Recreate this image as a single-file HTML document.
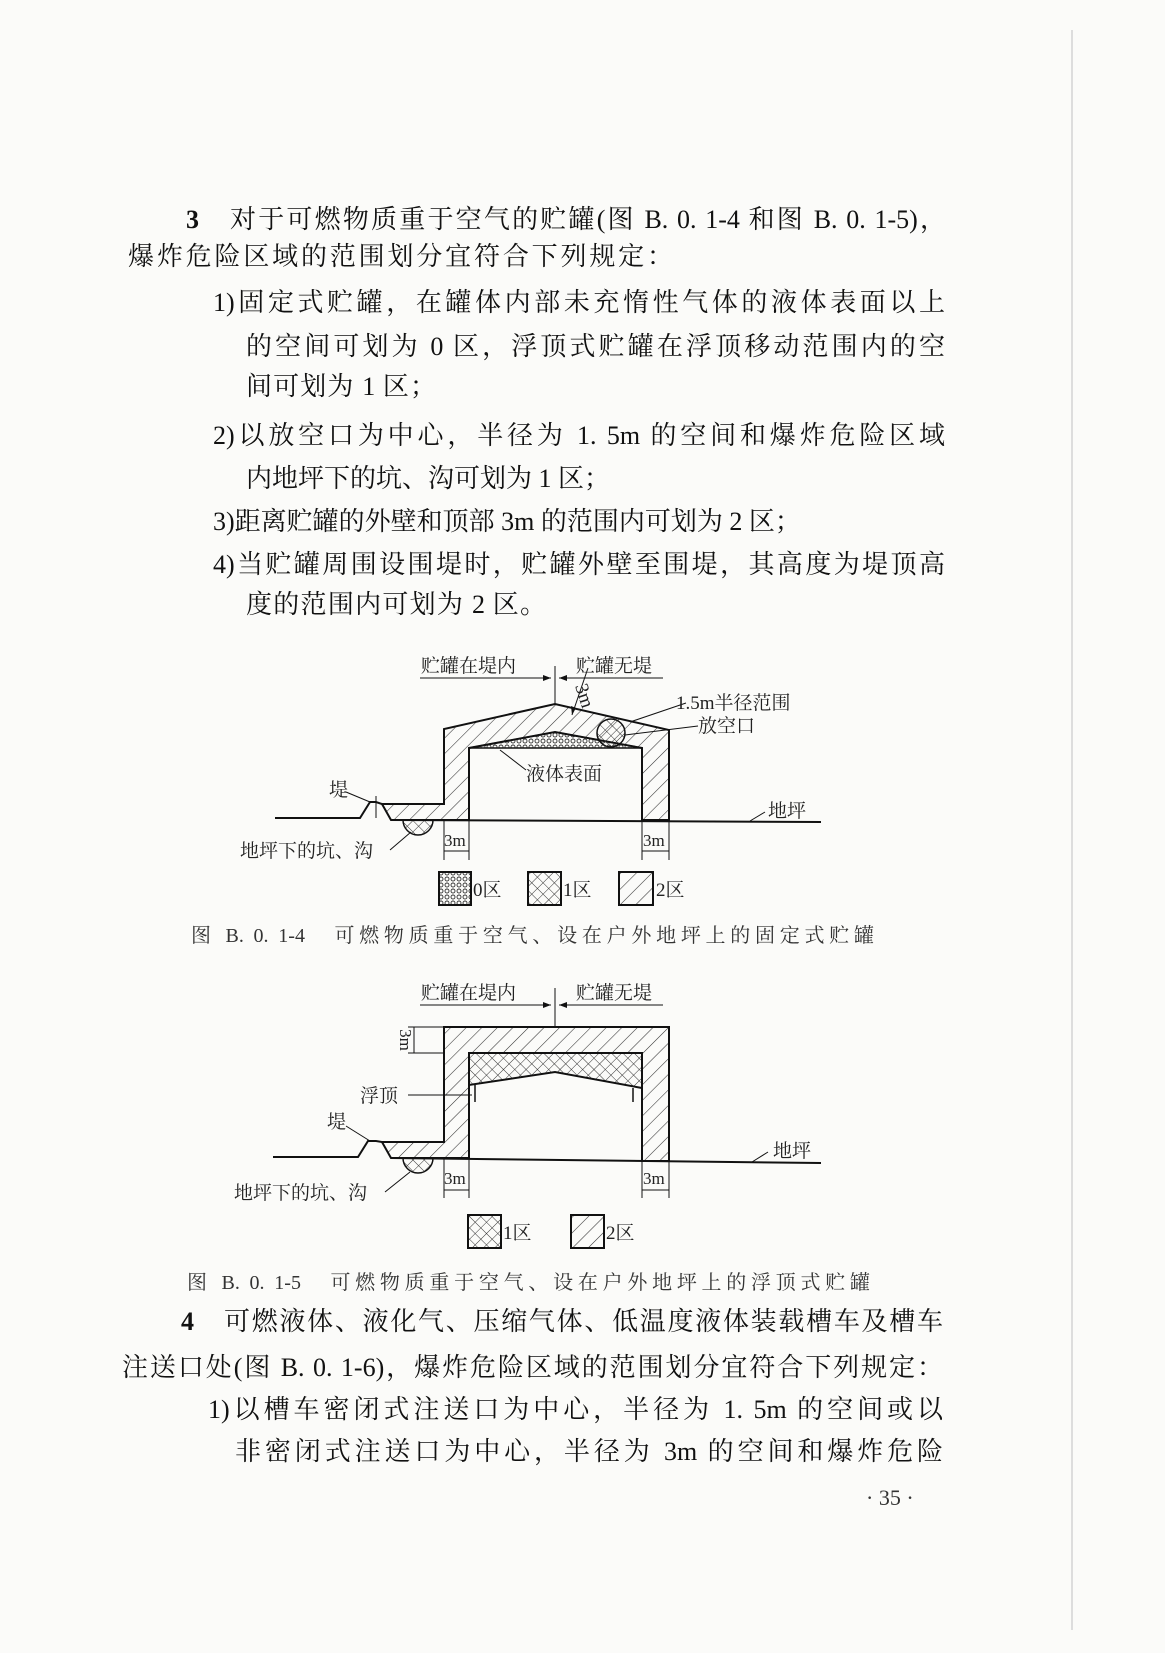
<!DOCTYPE html>
<html><head><meta charset="utf-8">
<style>
html,body{margin:0;padding:0;}
body{width:1165px;height:1653px;position:relative;background:#fbfbf9;overflow:hidden;
font-family:"Liberation Serif","Noto Serif CJK SC",serif;color:#111;}
.l{position:absolute;font-size:26px;line-height:30px;height:30px;white-space:nowrap;text-align:justify;text-align-last:justify;}
.c{position:absolute;font-size:20px;line-height:24px;white-space:nowrap;color:#333;text-align-last:justify;}
svg{position:absolute;left:0;top:0;}
svg text{font-family:"Liberation Serif","Noto Serif CJK SC",serif;fill:#222;}
</style></head><body>
<div style="position:absolute;left:1071px;top:30px;width:2px;height:1600px;background:#ddd"></div>

<div class="l" style="left:186px;top:205px;width:18px;font-weight:bold">3</div>
<div class="l" style="left:230px;top:205px;width:716px">对于可燃物质重于空气的贮罐(图 B. 0. 1-4 和图 B. 0. 1-5)，</div>
<div class="l" style="left:128px;top:242px;width:545px">爆炸危险区域的范围划分宜符合下列规定：</div>
<div class="l" style="left:213px;top:288px;width:732px">1)固定式贮罐，在罐体内部未充惰性气体的液体表面以上</div>
<div class="l" style="left:246px;top:332px;width:699px">的空间可划为 0 区，浮顶式贮罐在浮顶移动范围内的空</div>
<div class="l" style="left:246px;top:372px;width:190px">间可划为 1 区；</div>
<div class="l" style="left:213px;top:421px;width:732px">2)以放空口为中心，半径为 1. 5m 的空间和爆炸危险区域</div>
<div class="l" style="left:246px;top:464px;width:355px">内地坪下的坑、沟可划为 1 区；</div>
<div class="l" style="left:213px;top:507px;width:555px">3)距离贮罐的外壁和顶部 3m 的范围内可划为 2 区；</div>
<div class="l" style="left:213px;top:550px;width:732px">4)当贮罐周围设围堤时，贮罐外壁至围堤，其高度为堤顶高</div>
<div class="l" style="left:246px;top:590px;width:300px">度的范围内可划为 2 区。</div>

<svg width="1165" height="1653" viewBox="0 0 1165 1653">
<defs>
<pattern id="h2" width="11" height="11" patternUnits="userSpaceOnUse" patternTransform="rotate(45)">
<line x1="0" y1="0" x2="0" y2="11" stroke="#333" stroke-width="1.1"/></pattern>
<pattern id="h1" width="8" height="8" patternUnits="userSpaceOnUse" patternTransform="rotate(45)">
<line x1="0" y1="0" x2="0" y2="8" stroke="#333" stroke-width="1"/><line x1="0" y1="0" x2="8" y2="0" stroke="#333" stroke-width="1"/></pattern>
<pattern id="h0" width="6" height="6" patternUnits="userSpaceOnUse">
<circle cx="3" cy="3" r="2" fill="none" stroke="#333" stroke-width="0.9"/></pattern>
</defs>
<g stroke="#111" fill="none" stroke-width="2">
<polygon points="382,804 444,804 444,729 555,704 669,730 669,820 642,820 642,748 555,732 469,748 469,820 391,820" fill="url(#h2)"/>
<polygon points="469,748 555,732 642,748" fill="url(#h0)" stroke-width="1.5"/>
<circle cx="611" cy="733" r="14" fill="url(#h1)" stroke-width="1.5"/>
<path d="M403,820 A15,15 0 0 0 433,820 Z" fill="url(#h1)" stroke-width="1.5"/>
<polyline points="275,818 360,818 370,802 376,802 382,804"/>
<line x1="391" y1="820" x2="821" y2="822"/>
<line x1="376" y1="796" x2="376" y2="818" stroke-width="1"/>
<g stroke-width="1">
<line x1="555" y1="666" x2="555" y2="704"/>
<line x1="420" y1="678" x2="551" y2="678"/><line x1="559" y1="678" x2="663" y2="678"/>
<line x1="588" y1="668" x2="572" y2="715"/>
<line x1="686" y1="703" x2="630" y2="722"/>
<line x1="698" y1="726" x2="625" y2="735"/>
<line x1="526" y1="770" x2="500" y2="750"/>
<line x1="346" y1="792" x2="370" y2="802"/>
<line x1="765" y1="812" x2="750" y2="821"/>
<line x1="390" y1="850" x2="411" y2="832"/>
<line x1="444" y1="820" x2="444" y2="860"/><line x1="469" y1="820" x2="469" y2="860"/>
<line x1="444" y1="851" x2="469" y2="851"/>
<line x1="642" y1="822" x2="642" y2="860"/><line x1="669" y1="822" x2="669" y2="860"/>
<line x1="642" y1="851" x2="669" y2="851"/>
</g>
<g fill="#111" stroke="none">
<polygon points="551,678 543,675 543,681"/><polygon points="559,678 567,675 567,681"/>
<polygon points="572,715 571,706 576,708"/>
</g>
<rect x="439" y="872" width="32" height="33" fill="url(#h0)"/>
<rect x="528" y="872" width="33" height="33" fill="url(#h1)"/>
<rect x="619" y="872" width="34" height="33" fill="url(#h2)"/>

<polygon points="382,1142 444,1142 444,1027 669,1027 669,1161 642,1161 642,1053 469,1053 469,1158 391,1158" fill="url(#h2)"/>
<polygon points="469,1053 642,1053 642,1088 555,1072 469,1085" fill="url(#h1)"/>
<line x1="475" y1="1085" x2="475" y2="1102" stroke-width="1.5"/>
<line x1="633" y1="1088" x2="633" y2="1102" stroke-width="1.5"/>
<path d="M403,1158 A15,15 0 0 0 433,1158 Z" fill="url(#h1)" stroke-width="1.5"/>
<polyline points="273,1157 358,1157 368,1141 376,1141 382,1142"/>
<line x1="391" y1="1158" x2="821" y2="1163"/>
<g stroke-width="1">
<line x1="555" y1="988" x2="555" y2="1027"/>
<line x1="420" y1="1005" x2="551" y2="1005"/><line x1="559" y1="1005" x2="663" y2="1005"/>
<line x1="408" y1="1027" x2="444" y2="1027"/><line x1="408" y1="1053" x2="444" y2="1053"/>
<line x1="414" y1="1027" x2="414" y2="1053"/>
<line x1="408" y1="1095" x2="472" y2="1095"/>
<line x1="346" y1="1126" x2="370" y2="1141"/>
<line x1="768" y1="1152" x2="752" y2="1162"/>
<line x1="385" y1="1192" x2="410" y2="1172"/>
<line x1="444" y1="1158" x2="444" y2="1198"/><line x1="469" y1="1158" x2="469" y2="1198"/>
<line x1="444" y1="1190" x2="469" y2="1190"/>
<line x1="642" y1="1161" x2="642" y2="1198"/><line x1="669" y1="1161" x2="669" y2="1198"/>
<line x1="642" y1="1190" x2="669" y2="1190"/>
</g>
<g fill="#111" stroke="none">
<polygon points="551,1005 543,1002 543,1008"/><polygon points="559,1005 567,1002 567,1008"/>
</g>
<rect x="468" y="1215" width="33" height="33" fill="url(#h1)"/>
<rect x="571" y="1215" width="33" height="33" fill="url(#h2)"/>
</g>

<g font-size="19">
<text x="421" y="672">贮罐在堤内</text><text x="576" y="672">贮罐无堤</text>
<text x="575" y="686" transform="rotate(72 575 686)" font-size="19">3m</text>
<text x="676" y="709">1.5m半径范围</text><text x="698" y="732">放空口</text>
<text x="526" y="780">液体表面</text>
<text x="329" y="796">堤</text>
<text x="768" y="817">地坪</text>
<text x="240" y="857">地坪下的坑、沟</text>
<text x="444" y="846" font-size="17">3m</text><text x="643" y="846" font-size="17">3m</text>
<text x="473" y="896">0区</text><text x="563" y="896">1区</text><text x="656" y="896">2区</text>

<text x="421" y="999">贮罐在堤内</text><text x="576" y="999">贮罐无堤</text>
<text x="400" y="1040" transform="rotate(90 400 1040)" font-size="17" text-anchor="middle">3m</text>
<text x="360" y="1102">浮顶</text>
<text x="327" y="1128">堤</text>
<text x="773" y="1157">地坪</text>
<text x="234" y="1199">地坪下的坑、沟</text>
<text x="444" y="1184" font-size="17">3m</text><text x="643" y="1184" font-size="17">3m</text>
<text x="503" y="1239">1区</text><text x="606" y="1239">2区</text>
</g>
</svg>

<div class="c" style="left:191px;top:924px;width:683px">图 B. 0. 1-4　可燃物质重于空气、设在户外地坪上的固定式贮罐</div>
<div class="c" style="left:187px;top:1271px;width:683px">图 B. 0. 1-5　可燃物质重于空气、设在户外地坪上的浮顶式贮罐</div>

<div class="l" style="left:181px;top:1307px;width:18px;font-weight:bold">4</div>
<div class="l" style="left:224px;top:1307px;width:719px">可燃液体、液化气、压缩气体、低温度液体装载槽车及槽车</div>
<div class="l" style="left:122px;top:1353px;width:821px">注送口处(图 B. 0. 1-6)，爆炸危险区域的范围划分宜符合下列规定：</div>
<div class="l" style="left:208px;top:1395px;width:735px">1)以槽车密闭式注送口为中心，半径为 1. 5m 的空间或以</div>
<div class="l" style="left:235px;top:1437px;width:708px">非密闭式注送口为中心，半径为 3m 的空间和爆炸危险</div>
<div class="c" style="left:866px;top:1486px;font-size:22px;text-align-last:auto">· 35 ·</div>
</body></html>
